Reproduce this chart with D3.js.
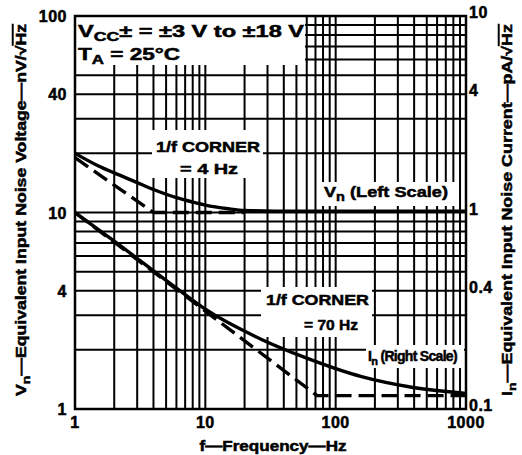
<!DOCTYPE html>
<html lang="en">
<head>
<meta charset="UTF-8" />
<title>Noise vs Frequency</title>
<script src="https://cdn.jsdelivr.net/npm/d3@7"></script>
<style>
  body { margin: 0; background: #fff; }
  svg text { font-family: 'Liberation Sans', Arial, sans-serif; font-weight: bold; fill: #000; stroke: #000; stroke-width: 0.5px; }
  .tick { font-size: 16px; letter-spacing: 0.5px; }
  .note { font-size: 15px; }
  .title { font-size: 14px; }
</style>
</head>
<body>
<svg id="chart" width="522" height="455"></svg>
<script>
// axis extents and tick labels
const freqDomain = [1, 1000];
const vnDomain = [1, 100];
const inDomain = [0.1, 10];
const freqTicks = [1, 10, 100, 1000];
const vnTicks = [1, 4, 10, 40, 100];
const inTicks = [0.1, 0.4, 1, 4, 10];

// Vn (left scale, nV/rtHz)
const vnFreq  = [1, 1.5, 2, 3, 4, 6, 8, 10, 15, 20, 50, 100, 1000];
const vnSolid = [20, 17.3, 15.9, 14.2, 13.1, 11.9, 11.3, 10.9, 10.45, 10.25, 10.15, 10.15, 10.15];
const vnDashFreq = [1, 4, 20];
const vnDash = [19, 10, 10];

// In (right scale, pA/rtHz)
const inFreq  = [1, 2, 6, 10, 27, 58, 158, 383, 1000];
const inSolid = [1.0, 0.715, 0.412, 0.322, 0.226, 0.183, 0.146, 0.129, 0.12];
const inDashFreq = [1, 72, 1000];
const inDash = [1.0, 0.117, 0.117];

const svg = d3.select("#chart");
const L = 75, R = 466, T = 16, B = 409;

const x = d3.scaleLog().domain(freqDomain).range([L, R]);
const yL = d3.scaleLog().domain(vnDomain).range([B, T]);
const yR = d3.scaleLog().domain(inDomain).range([B, T]);

// grid at every 1..9 multiple
const grid = svg.append("g").attr("stroke", "#000").attr("stroke-width", 2);
x.ticks().forEach(f => {
  grid.append("line").attr("x1", x(f)).attr("x2", x(f)).attr("y1", T).attr("y2", B);
});
yL.ticks().forEach(v => {
  grid.append("line").attr("x1", L).attr("x2", R).attr("y1", yL(v)).attr("y2", yL(v));
});

// white label boxes that hide the grid
const boxes = [
  [L, T, 305, 65],
  [152, 130, 263, 178],
  [318, 182, 455, 206],
  [261, 287, 372, 337],
  [366, 345, 464, 368]
];
svg.append("g").selectAll("rect").data(boxes).join("rect")
  .attr("x", d => d[0]).attr("y", d => d[1])
  .attr("width", d => d[2] - d[0]).attr("height", d => d[3] - d[1])
  .attr("fill", "#fff");

// frame
svg.append("rect").attr("x", L).attr("y", T).attr("width", R - L).attr("height", B - T)
  .attr("fill", "none").attr("stroke", "#000").attr("stroke-width", 2.5);

const lineL = d3.line().x(d => x(d[0])).y(d => yL(d[1]));
const lineR = d3.line().x(d => x(d[0])).y(d => yR(d[1]));

function curve(gen, fs, vs, dashed, smooth) {
  svg.append("path")
    .attr("d", gen.curve(smooth ? d3.curveMonotoneX : d3.curveLinear)(d3.zip(fs, vs)))
    .attr("fill", "none").attr("stroke", "#000").attr("stroke-width", 3.4)
    .attr("stroke-dasharray", dashed ? "16,7" : null);
}
curve(lineL, vnDashFreq, vnDash, true, false);
curve(lineR, inDashFreq, inDash, true, false);
curve(lineL, vnFreq, vnSolid, false, true);
curve(lineR, inFreq, inSolid, false, true);

// tick labels
svg.append("g").selectAll("text").data(freqTicks).join("text")
  .attr("class", "tick").attr("x", d => x(d)).attr("y", 428)
  .attr("text-anchor", "middle").text(d => d);
svg.append("g").selectAll("text").data(vnTicks).join("text")
  .attr("class", "tick").attr("x", 67).attr("y", d => yL(d) + 6)
  .attr("text-anchor", "end").text(d => d);
svg.append("g").selectAll("text").data(inTicks).join("text")
  .attr("class", "tick").attr("x", 469).attr("y", d => yR(d) + 2)
  .text(d => d);

// axis titles
svg.append("text").attr("class", "title").attr("x", 273).attr("y", 451)
  .attr("text-anchor", "middle").attr("textLength", 147).attr("lengthAdjust", "spacingAndGlyphs")
  .text("f\u2014Frequency\u2014Hz");

function yTitle(xp, sym, body, unit) {
  const t = svg.append("text").attr("class", "title")
    .attr("transform", `translate(${xp},210) rotate(-90)`)
    .attr("text-anchor", "middle")
    .attr("textLength", 372).attr("lengthAdjust", "spacingAndGlyphs");
  t.append("tspan").text(sym[0]);
  t.append("tspan").attr("font-size", 11).attr("dy", 4).text(sym[1]);
  t.append("tspan").attr("dy", -4).text("\u2014" + body + "\u2014" + unit + "/\u221A");
  t.append("tspan").style("text-decoration", "overline").text("Hz");
}
yTitle(26, "Vn", "Equivalent Input Noise Voltage", "nV");
yTitle(512, "In", "Equivalent Input Noise Current", "pA");

// notes
function subNote(xp, yp, main, sub, rest, len, size) {
  const s = size || 15;
  const t = svg.append("text").attr("class", "note").attr("x", xp).attr("y", yp)
    .style("font-size", s + "px");
  if (len) t.attr("textLength", len).attr("lengthAdjust", "spacingAndGlyphs");
  t.append("tspan").text(main);
  t.append("tspan").attr("dy", 4).style("font-size", Math.round(s * 0.78) + "px").text(sub);
  t.append("tspan").attr("dy", -4).text(rest);
  return t;
}
subNote(78, 37, "V", "CC", "\u00B1  =  \u00B13 V to \u00B118 V", 226, 16);
subNote(78, 60, "T", "A", "  =  25\u00B0C", 102, 16);

function note(xp, yp, txt, len) {
  svg.append("text").attr("class", "note").attr("x", xp).attr("y", yp)
    .attr("textLength", len).attr("lengthAdjust", "spacingAndGlyphs").text(txt);
}
note(156, 152, "1/f CORNER", 104);
note(180, 174, "=  4 Hz", 58);
note(266, 305, "1/f CORNER", 103);
note(304, 330, "=  70 Hz", 54);

subNote(324, 197, "V", "n", " (Left Scale)", 124);
subNote(368, 361, "I", "n", " (Right Scale)", null, 14).style("letter-spacing", "-0.7px");
</script>
</body>
</html>
